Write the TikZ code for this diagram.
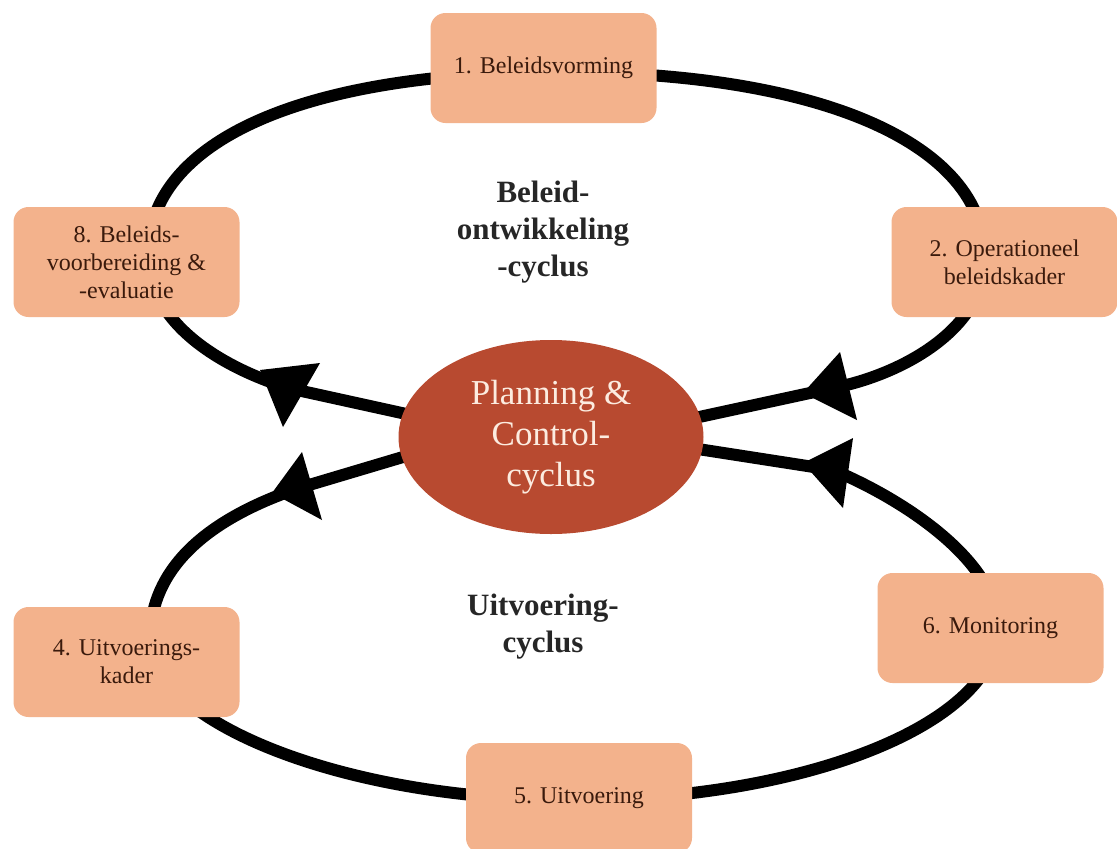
\documentclass[tikz,border=0pt]{standalone}
\usepackage{fontspec}
\setmainfont{Liberation Serif}
\usetikzlibrary{shapes.geometric}
\definecolor{boxfill}{RGB}{243,178,140}
\definecolor{boxtext}{RGB}{58,26,12}
\definecolor{pcfill}{RGB}{184,74,48}
\definecolor{pctext}{RGB}{252,236,224}
\tikzset{
  stage/.style={rectangle, rounded corners=15pt, fill=boxfill, minimum width=226pt,
    minimum height=110pt, align=center, text=boxtext, inner sep=0pt,
    font=\fontsize{24}{28}\selectfont},
  loopline/.style={line width=12pt, black, line join=round},
  tip/.style={fill=black},
  cyclelabel/.style={align=center, font=\fontsize{31}{37}\selectfont\bfseries, text=black!85}
}
\begin{document}
\begin{tikzpicture}[x=1pt,y=-1pt]
\useasboundingbox (0,0) rectangle (1117,849);
% junction points (inside the arrow heads)
\coordinate (ulj) at (288,388);
\coordinate (urj) at (833,388);
\coordinate (llj) at (299,488);
\coordinate (lrj) at (833,470);
% upper loop: Beleidontwikkeling-cyclus
\draw[loopline] (470,428) -- (ulj)
  .. controls (215,365) and (148,320) .. (148,255)
  .. controls (148,142) and (301,72) .. (560,72)
  .. controls (819,72) and (985,143) .. (985,258)
  .. controls (985,330) and (900,375) .. (urj)
  -- (630,432);
% lower loop: Uitvoering-cyclus
\draw[loopline] (460,440) -- (llj)
  .. controls (190,525) and (150,580) .. (150,640)
  .. controls (150,719) and (338,800) .. (572,800)
  .. controls (806,800) and (998,723) .. (998,628)
  .. controls (998,562) and (905,500) .. (lrj)
  -- (640,440);
% arrow heads
\fill[tip] (260,370) -- (320,363) -- (283,427) -- cycle;
\fill[tip] (272,493) -- (302,452) -- (322,520) -- cycle;
\fill[tip] (803,393) -- (840,352) -- (857,420) -- cycle;
\fill[tip] (803,463) -- (853,438) -- (843,508) -- cycle;
% stages
\node[stage] (s1) at (543.5,68) {1. Beleidsvorming};
\node[stage] (s2) at (1004.5,262) {2. Operationeel\\beleidskader};
\node[stage] (s4) at (126.5,662) {4. Uitvoerings-\\kader};
\node[stage] (s5) at (579,798) {5. Uitvoering};
\node[stage] (s6) at (990.5,628) {6. Monitoring};
\node[stage] (s8) at (126.5,262) {8. Beleids-\\voorbereiding \&\\-evaluatie};
% centre
\node[ellipse, fill=pcfill, minimum width=305pt, minimum height=194pt, inner sep=0pt,
  align=center, text=pctext, font=\fontsize{35}{41}\selectfont] (pc) at (551,437)
  {Planning \&\\Control-\\cyclus};
% cycle labels
\node[cyclelabel] (lb) at (543,232) {Beleid-\\ontwikkeling\\-cyclus};
\node[cyclelabel] (lu) at (543,627) {Uitvoering-\\cyclus};
\end{tikzpicture}
\end{document}
